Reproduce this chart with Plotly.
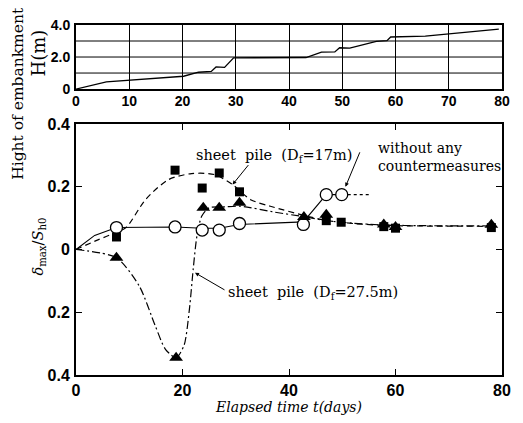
import plotly.graph_objects as go

# ---------------- data ----------------
# Top panel: embankment height H(m) vs elapsed time
h_t = [0, 5.7, 20.2, 23, 25.4, 26.3, 27.9, 28.9, 29.6, 43.2, 46.1, 48.6, 49.5, 51.4, 56.4, 58.4, 59.1, 65.6, 77.4, 79.4]
h_v = [0, 0.45, 0.8, 1.05, 1.1, 1.38, 1.35, 1.7, 1.95, 1.97, 2.3, 2.32, 2.58, 2.56, 2.98, 3.02, 3.25, 3.3, 3.7, 3.74]

# Bottom panel markers
circ_t = [7.6, 18.6, 23.7, 26.9, 30.7, 42.7, 47.0, 49.9]
circ_v = [0.070, 0.072, 0.062, 0.062, 0.083, 0.080, 0.175, 0.175]
sq_t = [7.6, 18.6, 23.7, 26.9, 30.7, 47.0, 49.8, 57.8, 60.0, 78.0]
sq_v = [0.040, 0.253, 0.196, 0.244, 0.184, 0.092, 0.087, 0.073, 0.068, 0.070]
tri_t = [7.6, 18.8, 23.9, 26.9, 30.7, 42.8, 47.0, 57.8, 60.0, 78.0]
tri_v = [-0.026, -0.345, 0.133, 0.133, 0.149, 0.104, 0.111, 0.080, 0.072, 0.079]

# Hand-drawn trend curves
c_curve_t = [0, 3.5, 7.6, 18.6, 23.7, 26.9, 30.7, 42.7, 47.0, 49.9]
c_curve_v = [0, 0.045, 0.070, 0.072, 0.068, 0.068, 0.080, 0.088, 0.175, 0.175]
c_tail_t = [49.9, 55.0]
c_tail_v = [0.175, 0.175]
s_curve_t = [0, 4, 7.6, 9.4, 13.1, 17.4, 21.7, 26, 29.4, 32.8, 36.5, 43, 47, 52, 58, 65, 78.5]
s_curve_v = [0, 0.03, 0.055, 0.07, 0.16, 0.223, 0.242, 0.239, 0.207, 0.159, 0.138, 0.108, 0.093, 0.083, 0.077, 0.075, 0.074]
t_curve_t = [0, 7.6, 11.9, 14.9, 16.8, 18.8, 20.3, 21.3, 22.0, 22.7, 23.6, 25.0, 28.0, 31.0, 37, 43, 47, 52, 58, 65, 78.5]
t_curve_v = [0, -0.026, -0.117, -0.244, -0.318, -0.345, -0.305, -0.19, -0.064, 0.042, 0.106, 0.133, 0.136, 0.138, 0.12, 0.104, 0.092, 0.084, 0.078, 0.076, 0.075]

x_ticks = [0, 20, 40, 60, 80]
y_ticks = [-0.4, -0.2, 0, 0.2, 0.4]
y_ticktext = ["0.4", "0.2", "0", "0.2", "0.4"]
h_xticks = [0, 10, 20, 30, 40, 50, 60, 70, 80]
h_yticks = [0, 2, 4]
h_yticktext = ["0", "2.0", "4.0"]

# ---------------- figure ----------------
fig = go.Figure()
black = "black"

fig.add_trace(go.Scatter(x=h_t, y=h_v, mode="lines", line=dict(color=black, width=1.3),
                         xaxis="x2", yaxis="y2", showlegend=False))

fig.add_trace(go.Scatter(x=c_curve_t, y=c_curve_v, mode="lines", line=dict(color=black, width=1.1),
                         showlegend=False))
fig.add_trace(go.Scatter(x=c_tail_t, y=c_tail_v, mode="lines", line=dict(color=black, width=1.1, dash="3px,3px"),
                         showlegend=False))
fig.add_trace(go.Scatter(x=s_curve_t, y=s_curve_v, mode="lines",
                         line=dict(color=black, width=1.2, dash="6px,4px", shape="spline", smoothing=0.8),
                         showlegend=False))
fig.add_trace(go.Scatter(x=t_curve_t, y=t_curve_v, mode="lines",
                         line=dict(color=black, width=1.2, dash="8px,3px,2px,3px", shape="spline", smoothing=0.7),
                         showlegend=False))

fig.add_trace(go.Scatter(x=circ_t, y=circ_v, mode="markers",
                         marker=dict(symbol="circle", size=12, color="white", line=dict(color=black, width=1.3)),
                         showlegend=False))
fig.add_trace(go.Scatter(x=sq_t, y=sq_v, mode="markers",
                         marker=dict(symbol="square", size=9, color=black), showlegend=False))
fig.add_trace(go.Scatter(x=tri_t, y=tri_v, mode="markers",
                         marker=dict(symbol="triangle-up", size=12, color=black), showlegend=False))

tickfont = dict(family="Liberation Sans", size=16, color=black, weight="bold")
tickfont_top = dict(family="Liberation Sans", size=14, color=black, weight="bold")
serif = "DejaVu Serif"

fig.update_layout(
    width=523, height=423,
    margin=dict(l=76, r=15, t=25, b=48),
    paper_bgcolor="white", plot_bgcolor="white",
    xaxis=dict(domain=[0, 1], range=[0, 80], tickvals=x_ticks, ticks="inside", ticklen=6,
               tickwidth=1.2, tickcolor=black, showline=True, linewidth=2, linecolor=black,
               mirror="ticks", showgrid=False, zeroline=False, tickfont=tickfont, ticklabelstandoff=0,
               title=dict(text="<i>Elapsed time t(days)</i>", font=dict(family=serif, size=14, color=black),
                          standoff=2)),
    yaxis=dict(domain=[0, 0.717], range=[-0.4, 0.4], tickvals=y_ticks, ticktext=y_ticktext,
               ticks="inside", ticklen=6, tickwidth=1.2, tickcolor=black, showline=True, linewidth=2,
               linecolor=black, mirror="ticks", showgrid=False, zeroline=False, tickfont=tickfont,
               ticklabelstandoff=1),
    xaxis2=dict(domain=[0, 1], range=[0, 80], tickvals=h_xticks, anchor="y2", showline=True, linewidth=2,
                linecolor=black, mirror=True, showgrid=True, gridcolor=black, gridwidth=1, zeroline=False,
                ticks="", tickfont=tickfont_top, ticklabelstandoff=-2),
    yaxis2=dict(domain=[0.817, 1], range=[0, 4], tickvals=h_yticks, ticktext=h_yticktext, anchor="x2",
                showline=True, linewidth=2, linecolor=black, mirror=True, showgrid=False, zeroline=False,
                ticks="", tickfont=tickfont_top, ticklabelstandoff=1),
    shapes=[dict(type="line", xref="x2", yref="y2", x0=0, x1=80, y0=v, y1=v,
                 line=dict(color=black, width=1)) for v in [1, 2, 3]],
)

ann = []
txtfont = dict(family=serif, size=14.5, color=black)
ann.append(dict(x=22.2, y=0.299, xref="x", yref="y", text="sheet  pile  (D<sub>f</sub>=17m)",
                showarrow=False, xanchor="left", yanchor="middle", font=txtfont))
ann.append(dict(x=29.4, y=0.207, xref="x", yref="y", ax=17, ay=-21, text="", showarrow=True,
                arrowhead=2, arrowsize=0.8, arrowwidth=1, arrowcolor=black))
ann.append(dict(x=56.3, y=0.295, xref="x", yref="y", text="without any<br>countermeasures",
                showarrow=False, xanchor="left", yanchor="middle", align="left",
                font=dict(family=serif, size=14, color=black)))
ann.append(dict(x=50.6, y=0.2, xref="x", yref="y", ax=15, ay=-36, text="", showarrow=True,
                arrowhead=2, arrowsize=0.8, arrowwidth=1, arrowcolor=black))
ann.append(dict(x=28.1, y=-0.137, xref="x", yref="y", text="sheet  pile  (D<sub>f</sub>=27.5m)",
                showarrow=False, xanchor="left", yanchor="middle", font=txtfont))
ann.append(dict(x=22.35, y=-0.074, xref="x", yref="y", ax=31, ay=18, text="", showarrow=True,
                arrowhead=2, arrowsize=0.8, arrowwidth=1, arrowcolor=black))
ann.append(dict(x=17, y=93, text="Hight of embankment", textangle=-90,
                showarrow=False, font=dict(family=serif, size=15.5, color=black)))
ann.append(dict(x=38, y=53, text="H(m)", textangle=-90, showarrow=False,
                font=dict(family=serif, size=18, color=black)))
ann.append(dict(x=38, y=247, text="<i>δ</i><sub>max</sub>/<i>S</i><sub>h0</sub>", textangle=-90,
                showarrow=False, font=dict(family=serif, size=14.5, color=black)))

# convert pixel positions for side titles into paper coordinates
W, H = 523, 423
L, R, T, B = 76, 15, 25, 48
pw, ph = W - L - R, H - T - B
for a in ann[-3:]:
    px, py = a["x"], a["y"]
    a["xref"] = "paper"
    a["yref"] = "paper"
    a["x"] = (px - L) / pw
    a["y"] = 1 - (py - T) / ph
    a["xanchor"] = "center"
    a["yanchor"] = "middle"

fig.update_layout(annotations=ann)
fig.write_html("out.html", config={"displayModeBar": False},
               post_script="document.body.style.margin='0px';")
